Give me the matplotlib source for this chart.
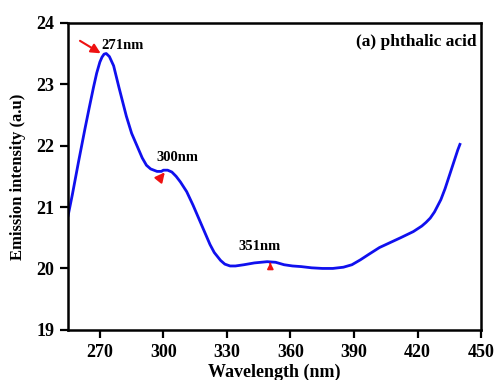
import matplotlib
matplotlib.use("Agg")
import matplotlib.pyplot as plt

# wavelength (nm) and emission intensity (a.u)
wavelength = [255, 257, 260, 263, 265, 267, 268.5, 270, 271, 272, 273, 274.5, 276.5,
              279, 282.5, 285, 287.5, 290, 292, 294, 297, 299, 300, 302, 304, 306, 308,
              311, 314, 317, 320, 322, 324, 327, 329, 331.5, 334, 338, 343, 349, 353,
              357, 361, 365, 370, 375, 380, 385, 389, 393, 397, 402, 407, 412, 418,
              422, 424, 426, 428, 431, 433, 435, 437, 439, 440]
intensity = [20.86, 21.2, 21.75, 22.28, 22.62, 22.95, 23.18, 23.36, 23.44, 23.49, 23.5,
             23.45, 23.3, 22.95, 22.48, 22.2, 22.0, 21.8, 21.68, 21.62, 21.58, 21.58,
             21.6, 21.6, 21.57, 21.5, 21.41, 21.25, 21.03, 20.79, 20.55, 20.39, 20.26,
             20.13, 20.07, 20.04, 20.04, 20.06, 20.09, 20.11, 20.1, 20.06, 20.04, 20.03,
             20.01, 20.0, 20.0, 20.02, 20.06, 20.14, 20.23, 20.34, 20.42, 20.5, 20.6,
             20.69, 20.75, 20.82, 20.92, 21.12, 21.3, 21.51, 21.72, 21.93, 22.02]

peaks = ["271nm", "300nm", "351nm"]

plt.rcParams['font.family'] = ['Liberation Serif', 'DejaVu Serif']
plt.rcParams['font.weight'] = 'bold'

fig = plt.figure(figsize=(4.97, 3.8), dpi=100)
ax = fig.add_axes([0.137, 0.132, 0.831, 0.808])

ax.plot(wavelength, intensity, color='#1010ee', lw=2.0)

ax.set_xlim(255, 450)
ax.set_ylim(19, 24)
ax.set_xticks([270, 300, 330, 360, 390, 420, 450])
ax.set_yticks([19, 20, 21, 22, 23, 24])

for s in ax.spines.values():
    s.set_linewidth(1.8)
ax.tick_params(direction='out', length=6, width=1.6, labelsize=13, pad=4)
for lbl in ax.get_xticklabels() + ax.get_yticklabels():
    lbl.set_fontweight('bold')

ax.set_xlabel("Wavelength (nm)", fontsize=13, fontweight='bold', labelpad=2)
ax.set_ylabel("Emission intensity (a.u)", fontsize=12, fontweight='bold', labelpad=7)

ax.text(0.99, 0.965, "(a) phthalic acid", transform=ax.transAxes, ha='right', va='top',
        fontsize=12.5, fontweight='bold')

# peak markers
red = '#ee1111'
ax.annotate("", xy=(271.5, 23.48), xytext=(259.5, 23.73),
            arrowprops=dict(arrowstyle='-|>', color=red, lw=1.5, mutation_scale=14))
ax.text(270.5, 23.63, peaks[0], fontsize=10.5, fontweight='bold', ha='left', va='center')

ax.annotate("", xy=(301.5, 21.6), xytext=(297.5, 21.43),
            arrowprops=dict(arrowstyle='-|>', color=red, lw=1.5, mutation_scale=14))
ax.text(296.5, 21.8, peaks[1], fontsize=10.5, fontweight='bold', ha='left', va='center')

ax.annotate("", xy=(350.5, 20.14), xytext=(350.5, 20.03),
            arrowprops=dict(arrowstyle='-|>', color=red, lw=1.2, mutation_scale=9))
ax.text(335.5, 20.36, peaks[2], fontsize=10.5, fontweight='bold', ha='left', va='center')

fig.savefig("out.png", dpi=100)
